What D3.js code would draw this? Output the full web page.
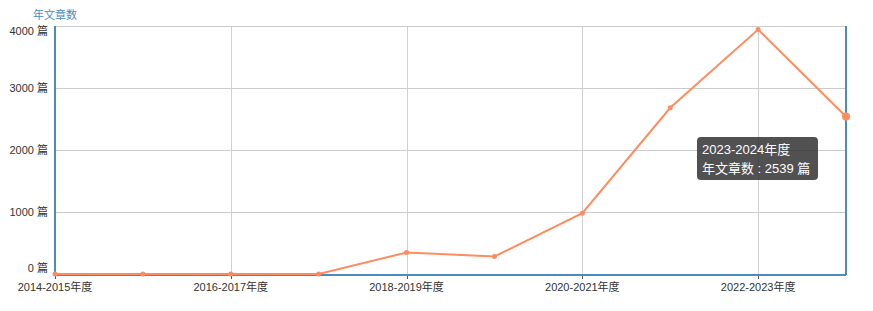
<!DOCTYPE html>
<html>
<head>
<meta charset="utf-8">
<script src="https://cdn.jsdelivr.net/npm/d3@7"></script>
<style>
  body { margin: 0; background: #fff; }
  svg text { font-family: "Liberation Sans", "Noto Sans CJK SC", sans-serif; }
</style>
</head>
<body>
<script>
var width = 873, height = 311;

// data
var years = ['2014-2015年度', '2015-2016年度', '2016-2017年度', '2017-2018年度', '2018-2019年度',
             '2019-2020年度', '2020-2021年度', '2021-2022年度', '2022-2023年度', '2023-2024年度'];
var counts = [0, 0, 0, 0, 347, 283, 981, 2681, 3942, 2539];
var yTicks = [0, 1000, 2000, 3000, 4000];
var seriesName = '年文章数';
var unit = '篇';

var margin = {left: 55, right: 27, top: 26, bottom: 37};
var x = d3.scalePoint().domain(years).range([margin.left, width - margin.right]);
var y = d3.scaleLinear().domain([0, 4000]).range([height - margin.bottom, margin.top]);

var svg = d3.select('body').append('svg').attr('width', width).attr('height', height);

// title of the y axis
svg.append('text')
    .attr('x', 33).attr('y', 19)
    .attr('font-size', 11)
    .attr('fill', '#4a8bc2')
    .text(seriesName);

// horizontal grid
svg.append('g').selectAll('line').data(yTicks.filter(d => d > 0))
    .enter().append('line')
    .attr('x1', margin.left).attr('x2', width - margin.right)
    .attr('y1', d => Math.round(y(d)) + 0.5).attr('y2', d => Math.round(y(d)) + 0.5)
    .attr('stroke', '#cccccc').attr('stroke-width', 1);

// vertical grid, every other category
var shown = years.filter((d, i) => i % 2 === 0);
svg.append('g').selectAll('line').data(shown.slice(1))
    .enter().append('line')
    .attr('x1', d => Math.round(x(d)) + 0.5).attr('x2', d => Math.round(x(d)) + 0.5)
    .attr('y1', margin.top).attr('y2', y(0))
    .attr('stroke', '#d0d0d0').attr('stroke-width', 1);

// y labels
var x0 = margin.left, x1 = width - margin.right, y0 = y(0);
svg.append('g').selectAll('text').data(yTicks)
    .enter().append('text')
    .attr('x', 48)
    .attr('y', d => d === 0 ? y(d) - 2 : (d === 4000 ? y(d) + 9 : y(d) + 4))
    .attr('text-anchor', 'end')
    .attr('font-size', 11)
    .attr('fill', '#333')
    .text(d => d + ' ' + unit);

// x labels and ticks
svg.append('g').selectAll('text').data(shown)
    .enter().append('text')
    .attr('x', d => x(d))
    .attr('y', y0 + 17)
    .attr('text-anchor', 'middle')
    .attr('font-size', 11)
    .attr('fill', '#333')
    .text(d => d);
svg.append('g').selectAll('line').data(shown)
    .enter().append('line')
    .attr('x1', d => Math.round(x(d)) + 0.5).attr('x2', d => Math.round(x(d)) + 0.5)
    .attr('y1', y0).attr('y2', y0 + 5)
    .attr('stroke', '#555').attr('stroke-width', 1);

// frame: grey top, blue left / right / bottom
svg.append('line').attr('x1', x0).attr('x2', x1).attr('y1', margin.top + 0.5).attr('y2', margin.top + 0.5)
    .attr('stroke', '#cccccc');
svg.append('line').attr('x1', x0).attr('x2', x0).attr('y1', margin.top).attr('y2', y0 + 1)
    .attr('stroke', '#4a8bc2').attr('stroke-width', 2);
svg.append('line').attr('x1', x1).attr('x2', x1).attr('y1', margin.top).attr('y2', y0 + 1)
    .attr('stroke', '#4a8bc2').attr('stroke-width', 2);
svg.append('line').attr('x1', x0).attr('x2', x1).attr('y1', y0 + 1).attr('y2', y0 + 1)
    .attr('stroke', '#4a8bc2').attr('stroke-width', 2);

// series line
var line = d3.line().x((d, i) => x(years[i])).y(d => y(d));
svg.append('path')
    .datum(counts)
    .attr('d', line)
    .attr('fill', 'none')
    .attr('stroke', '#ff8c5f')
    .attr('stroke-width', 2);

svg.append('g').selectAll('circle').data(counts)
    .enter().append('circle')
    .attr('cx', (d, i) => x(years[i]))
    .attr('cy', d => y(d))
    .attr('r', (d, i) => i === counts.length - 1 ? 4 : 2.5)
    .attr('fill', '#ff8c5f');

// tooltip for the last point
var last = counts.length - 1;
var tip = svg.append('g').attr('transform', 'translate(697,137)');
tip.append('rect')
    .attr('width', 121).attr('height', 43)
    .attr('rx', 4).attr('ry', 4)
    .attr('fill', 'rgba(50,50,50,0.85)');
tip.append('text')
    .attr('x', 5).attr('y', 17)
    .attr('font-size', 13).attr('fill', '#fff')
    .text(years[last]);
tip.append('text')
    .attr('x', 5).attr('y', 36)
    .attr('font-size', 13).attr('fill', '#fff')
    .text(seriesName + ' : ' + counts[last] + ' ' + unit);
</script>
</body>
</html>
